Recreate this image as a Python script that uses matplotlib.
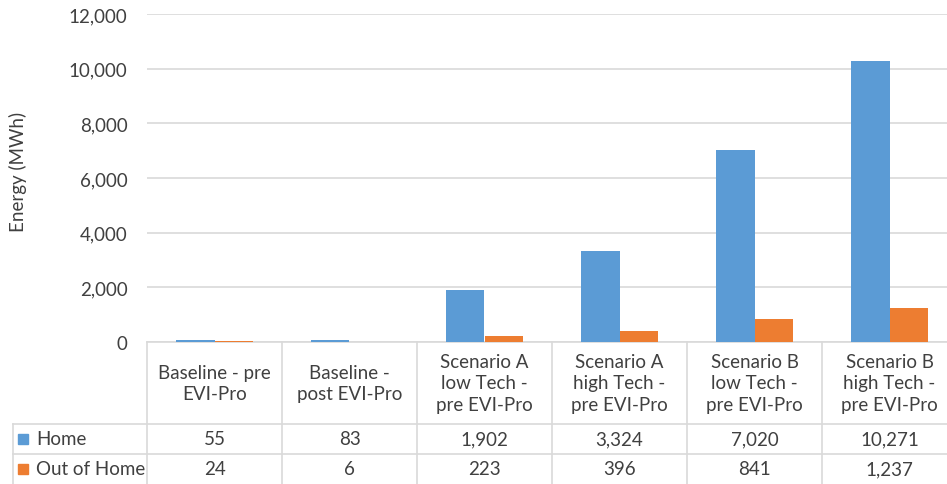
import matplotlib
matplotlib.use('Agg')
import matplotlib.pyplot as plt
from matplotlib.lines import Line2D
from matplotlib.patches import Rectangle
from matplotlib.ticker import FuncFormatter
import numpy as np

# Energy by scenario (MWh)
categories = ['Baseline - pre\nEVI-Pro', 'Baseline -\npost EVI-Pro',
              'Scenario A\nlow Tech -\npre EVI-Pro', 'Scenario A\nhigh Tech -\npre EVI-Pro',
              'Scenario B\nlow Tech -\npre EVI-Pro', 'Scenario B\nhigh Tech -\npre EVI-Pro']
home = [55, 83, 1902, 3324, 7020, 10271]
out_home = [24, 6, 223, 396, 841, 1237]
series_names = ['Home', 'Out of Home']
yticks = [0, 2000, 4000, 6000, 8000, 10000, 12000]

blue = '#5B9BD5'
orange = '#ED7D31'
grid = '#D9D9D9'
txt = '#404040'

plt.rcParams['font.family'] = ['Lato', 'DejaVu Sans']
fs = 13.5

W, H = 947, 485
fig = plt.figure(figsize=(W/100, H/100), dpi=100)

# plot area in pixels
x0, y_top, y0 = 147, 15, 343
colw = 135
n = len(categories)
ax = fig.add_axes([x0/W, (H-y0)/H, n*colw/W, (y0-y_top)/H])

x = np.arange(n)
bw = 0.285
ax.bar(x - bw/2, home, bw, color=blue, zorder=3)
ax.bar(x + bw/2, out_home, bw, color=orange, zorder=3)

ax.set_xlim(-0.5, n - 0.5)
ax.set_ylim(0, 12000)
ax.set_yticks(yticks)
ax.yaxis.set_major_formatter(FuncFormatter(lambda v, p: f'{int(v):,}'))
ax.grid(axis='y', color=grid, linewidth=1.2, zorder=0)
ax.set_xticks([])
ax.tick_params(axis='y', length=0, pad=14, labelsize=fs, labelcolor=txt)
for s in ['top', 'right', 'left']:
    ax.spines[s].set_visible(False)
ax.spines['bottom'].set_color(grid)
ax.spines['bottom'].set_linewidth(1.2)

fig.text(18/W, 1 - 172/H, 'Energy (MWh)', rotation=90, ha='center', va='center',
         fontsize=fs, color=txt)

# data table under the axis
def hline(ya, xa, xb):
    fig.add_artist(Line2D([xa/W, xb/W], [1-ya/H, 1-ya/H], color=grid, lw=1.2,
                          transform=fig.transFigure))

def vline(xa, ya, yb):
    fig.add_artist(Line2D([xa/W, xa/W], [1-ya/H, 1-yb/H], color=grid, lw=1.2,
                          transform=fig.transFigure))

row1, row2 = 425, 455
hline(row1, 13, W + 20)
hline(row2, 13, W + 20)
vline(13, row1, H + 5)
for k in range(n + 1):
    vline(x0 + k*colw, y0, H + 5)

for k, lab in enumerate(categories):
    cx = x0 + (k + 0.5)*colw
    fig.text(cx/W, 1 - 384/H, lab, ha='center', va='center', fontsize=fs,
             color=txt, linespacing=1.32)
    fig.text(cx/W, 1 - 440/H, f'{home[k]:,}', ha='center', va='center',
             fontsize=fs, color=txt)
    fig.text(cx/W, 1 - 470/H, f'{out_home[k]:,}', ha='center', va='center',
             fontsize=fs, color=txt)

for name, col, yc in zip(series_names, [blue, orange], [440, 470]):
    fig.add_artist(Rectangle((18/W, 1 - (yc + 5)/H), 10/W, 10/H, color=col,
                             transform=fig.transFigure))
    fig.text(36/W, 1 - yc/H, name, ha='left', va='center', fontsize=fs, color=txt)

fig.savefig('out.png', dpi=100)
